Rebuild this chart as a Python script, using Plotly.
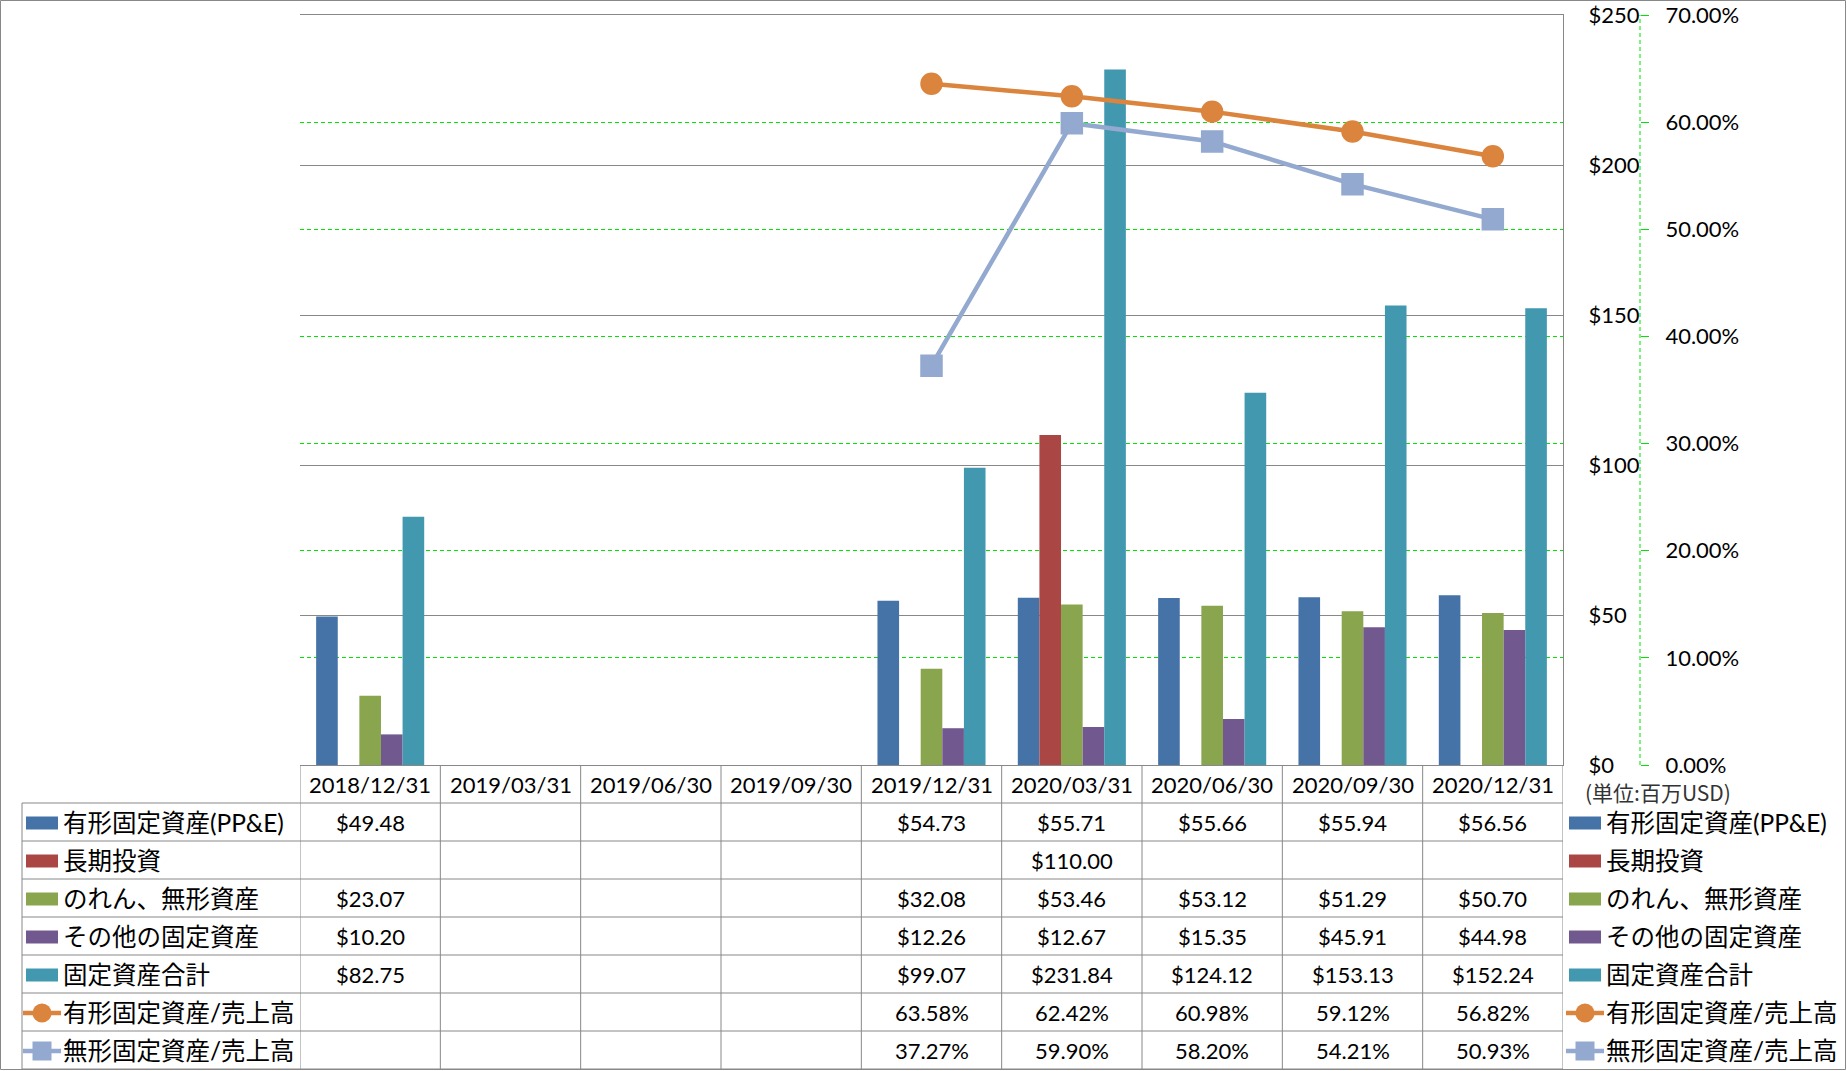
import plotly.graph_objects as go

# ---------------- data ----------------
categories = ["2018/12/31", "2019/03/31", "2019/06/30", "2019/09/30", "2019/12/31",
              "2020/03/31", "2020/06/30", "2020/09/30", "2020/12/31"]

ppe = [49.48, None, None, None, 54.73, 55.71, 55.66, 55.94, 56.56]
long_term_inv = [None, None, None, None, None, 110.00, None, None, None]
goodwill_intang = [23.07, None, None, None, 32.08, 53.46, 53.12, 51.29, 50.70]
other_fixed = [10.20, None, None, None, 12.26, 12.67, 15.35, 45.91, 44.98]
total_fixed = [82.75, None, None, None, 99.07, 231.84, 124.12, 153.13, 152.24]

ppe_to_sales = [None, None, None, None, 63.58, 62.42, 60.98, 59.12, 56.82]
intang_to_sales = [None, None, None, None, 37.27, 59.90, 58.20, 54.21, 50.93]

bar_names = ["有形固定資産(PP&E)", "長期投資", "のれん、無形資産", "その他の固定資産", "固定資産合計"]
line_names = ["有形固定資産/売上高", "無形固定資産/売上高"]
unit_label = "(単位:百万USD)"

# ---------------- styling ----------------
W, H = 1847, 1071
PX0, PX1, PY0, PY1 = 300, 1563, 15, 765
ROW0, ROWH = 803, 38
KEY_X0 = 22

bar_colors = ["#4572A7", "#AA4643", "#89A54E", "#71588F", "#4198AF"]
line_colors = ["#DB843D", "#93A9CF"]
GRAY = "#888888"
GREEN = "#00E400"
FONT = "Lato, 'Noto Sans CJK JP', sans-serif"


def fx(px):
    return px / W


def fy(py):
    return 1 - py / H


fig = go.Figure()

bar_series = [ppe, long_term_inv, goodwill_intang, other_fixed, total_fixed]
for name, vals, col in zip(bar_names, bar_series, bar_colors):
    fig.add_trace(go.Bar(x=categories, y=vals, name=name, marker_color=col,
                         marker_line_width=0, yaxis="y", showlegend=False))

line_series = [ppe_to_sales, intang_to_sales]
symbols = ["circle", "square"]
for name, vals, col, sym in zip(line_names, line_series, line_colors, symbols):
    fig.add_trace(go.Scatter(
        x=categories, y=[None if v is None else v / 100 for v in vals], name=name,
        yaxis="y2", mode="lines+markers",
        line=dict(color=col, width=4.5),
        marker=dict(symbol=sym, size=21, color=col,
                    line=dict(color=col, width=1.5)),
        showlegend=False))

shapes = []
annotations = []

# outer chart border
shapes.append(dict(type="rect", xref="paper", yref="paper",
                   x0=fx(0.5), x1=fx(W - 1.5), y0=fy(0.5), y1=fy(H - 1.5),
                   line=dict(color=GRAY, width=1), fillcolor="rgba(0,0,0,0)", layer="above"))

# secondary axis dashed vertical line
shapes.append(dict(type="line", xref="paper", yref="paper",
                   x0=fx(1640), x1=fx(1640), y0=fy(PY1), y1=fy(PY0),
                   line=dict(color=GREEN, width=1, dash="4px,3px")))

# data table grid
n_rows = len(bar_names) + len(line_names)
for r in range(n_rows + 1):
    y = ROW0 + r * ROWH
    shapes.append(dict(type="line", xref="paper", yref="paper",
                       x0=fx(KEY_X0), x1=fx(PX1), y0=fy(y), y1=fy(y),
                       line=dict(color=GRAY, width=1)))
shapes.append(dict(type="line", xref="paper", yref="paper",
                   x0=fx(KEY_X0), x1=fx(KEY_X0), y0=fy(ROW0), y1=fy(ROW0 + n_rows * ROWH),
                   line=dict(color=GRAY, width=1)))
for k in range(len(categories) + 1):
    shapes.append(dict(type="line", xref="x", yref="paper",
                       x0=k - 0.5, x1=k - 0.5, y0=fy(PY1), y1=fy(ROW0 + n_rows * ROWH),
                       line=dict(color=GRAY, width=1)))

# header labels
for c in categories:
    annotations.append(dict(x=c, xref="x", y=fy((PY1 + ROW0) / 2), yref="paper",
                            text=c, showarrow=False, xanchor="center", yanchor="middle",
                            font=dict(size=22)))

# cell values
rows = [(v, "$") for v in bar_series] + [(v, "%") for v in line_series]
for r, (vals, kind) in enumerate(rows):
    yc = fy(ROW0 + r * ROWH + ROWH / 2)
    for c, v in zip(categories, vals):
        if v is None:
            continue
        txt = f"${v:.2f}" if kind == "$" else f"{v:.2f}%"
        annotations.append(dict(x=c, xref="x", y=yc, yref="paper", text=txt,
                                showarrow=False, xanchor="center", yanchor="middle",
                                font=dict(size=22)))


# legend keys (table left column + right legend)
def add_key(r, x_sw0, x_txt, name, idx):
    yc_px = ROW0 + r * ROWH + ROWH / 2 + 1
    if idx < len(bar_names):
        shapes.append(dict(type="rect", xref="paper", yref="paper",
                           x0=fx(x_sw0), x1=fx(x_sw0 + 32), y0=fy(yc_px - 6.5), y1=fy(yc_px + 6.5),
                           fillcolor=bar_colors[idx], line=dict(width=0), layer="above"))
    else:
        li = idx - len(bar_names)
        col = line_colors[li]
        shapes.append(dict(type="line", xref="paper", yref="paper",
                           x0=fx(x_sw0 - 3), x1=fx(x_sw0 + 35), y0=fy(yc_px), y1=fy(yc_px),
                           line=dict(color=col, width=4.5), layer="above"))
        cx = x_sw0 + 16
        shapes.append(dict(type="circle" if li == 0 else "rect", xref="paper", yref="paper",
                           x0=fx(cx - 9.5), x1=fx(cx + 9.5), y0=fy(yc_px - 9.5), y1=fy(yc_px + 9.5),
                           fillcolor=col, line=dict(width=0), layer="above"))
    annotations.append(dict(x=fx(x_txt), xref="paper", y=fy(yc_px - 1), yref="paper", text=name,
                            showarrow=False, xanchor="left", yanchor="middle",
                            font=dict(size=24.5)))


all_names = bar_names + line_names
for i, nm in enumerate(all_names):
    add_key(i, 26, 61, nm, i)
    add_key(i, 1569, 1604, nm, i)

# unit label
annotations.append(dict(x=fx(1583), xref="paper", y=fy(792), yref="paper", text=unit_label,
                        showarrow=False, xanchor="left", yanchor="middle",
                        font=dict(size=21, color="#333333", family="'Noto Sans CJK JP', sans-serif")))

fig.update_layout(
    template="none",
    width=W, height=H, autosize=False,
    margin=dict(l=0, r=0, t=0, b=0, pad=0, autoexpand=False),
    paper_bgcolor="white", plot_bgcolor="white",
    font=dict(family=FONT, size=22, color="#000000"),
    barmode="group", bargap=0.23, bargroupgap=0,
    showlegend=False,
    xaxis=dict(domain=[fx(PX0), fx(PX1)], type="category", range=[-0.5, len(categories) - 0.5],
               showticklabels=False, ticks="", showgrid=False, zeroline=False, automargin=False,
               showline=True, linecolor=GRAY, linewidth=1, mirror=True),
    yaxis=dict(domain=[fy(PY1), fy(PY0)], range=[0, 250], dtick=50, tickprefix="$",
               side="right", showline=True, linecolor=GRAY, linewidth=1, automargin=False,
               showgrid=True, gridcolor=GRAY, gridwidth=1, zeroline=False,
               ticks="", ticklabelstandoff=20, tickfont=dict(size=22)),
    yaxis2=dict(overlaying="y", side="right", anchor="free", position=fx(1640),
                range=[0, 0.7], tickvals=[0, 0.1, 0.2, 0.3, 0.4, 0.5, 0.6, 0.7],
                tickformat=".2%", showgrid=True, gridcolor=GREEN, gridwidth=1, automargin=False,
                griddash="4px,3px", zeroline=False, showline=False,
                ticks="outside", ticklen=8, tickcolor=GREEN, tickwidth=1,
                ticklabelstandoff=12, tickfont=dict(size=22)),
    shapes=shapes,
    annotations=annotations,
)

post = (
    "document.documentElement.style.margin='0';"
    "document.body.style.margin='0';"
    "document.body.style.overflow='hidden';"
)
fig.write_html("out.html", config={"displayModeBar": False}, post_script=post)
